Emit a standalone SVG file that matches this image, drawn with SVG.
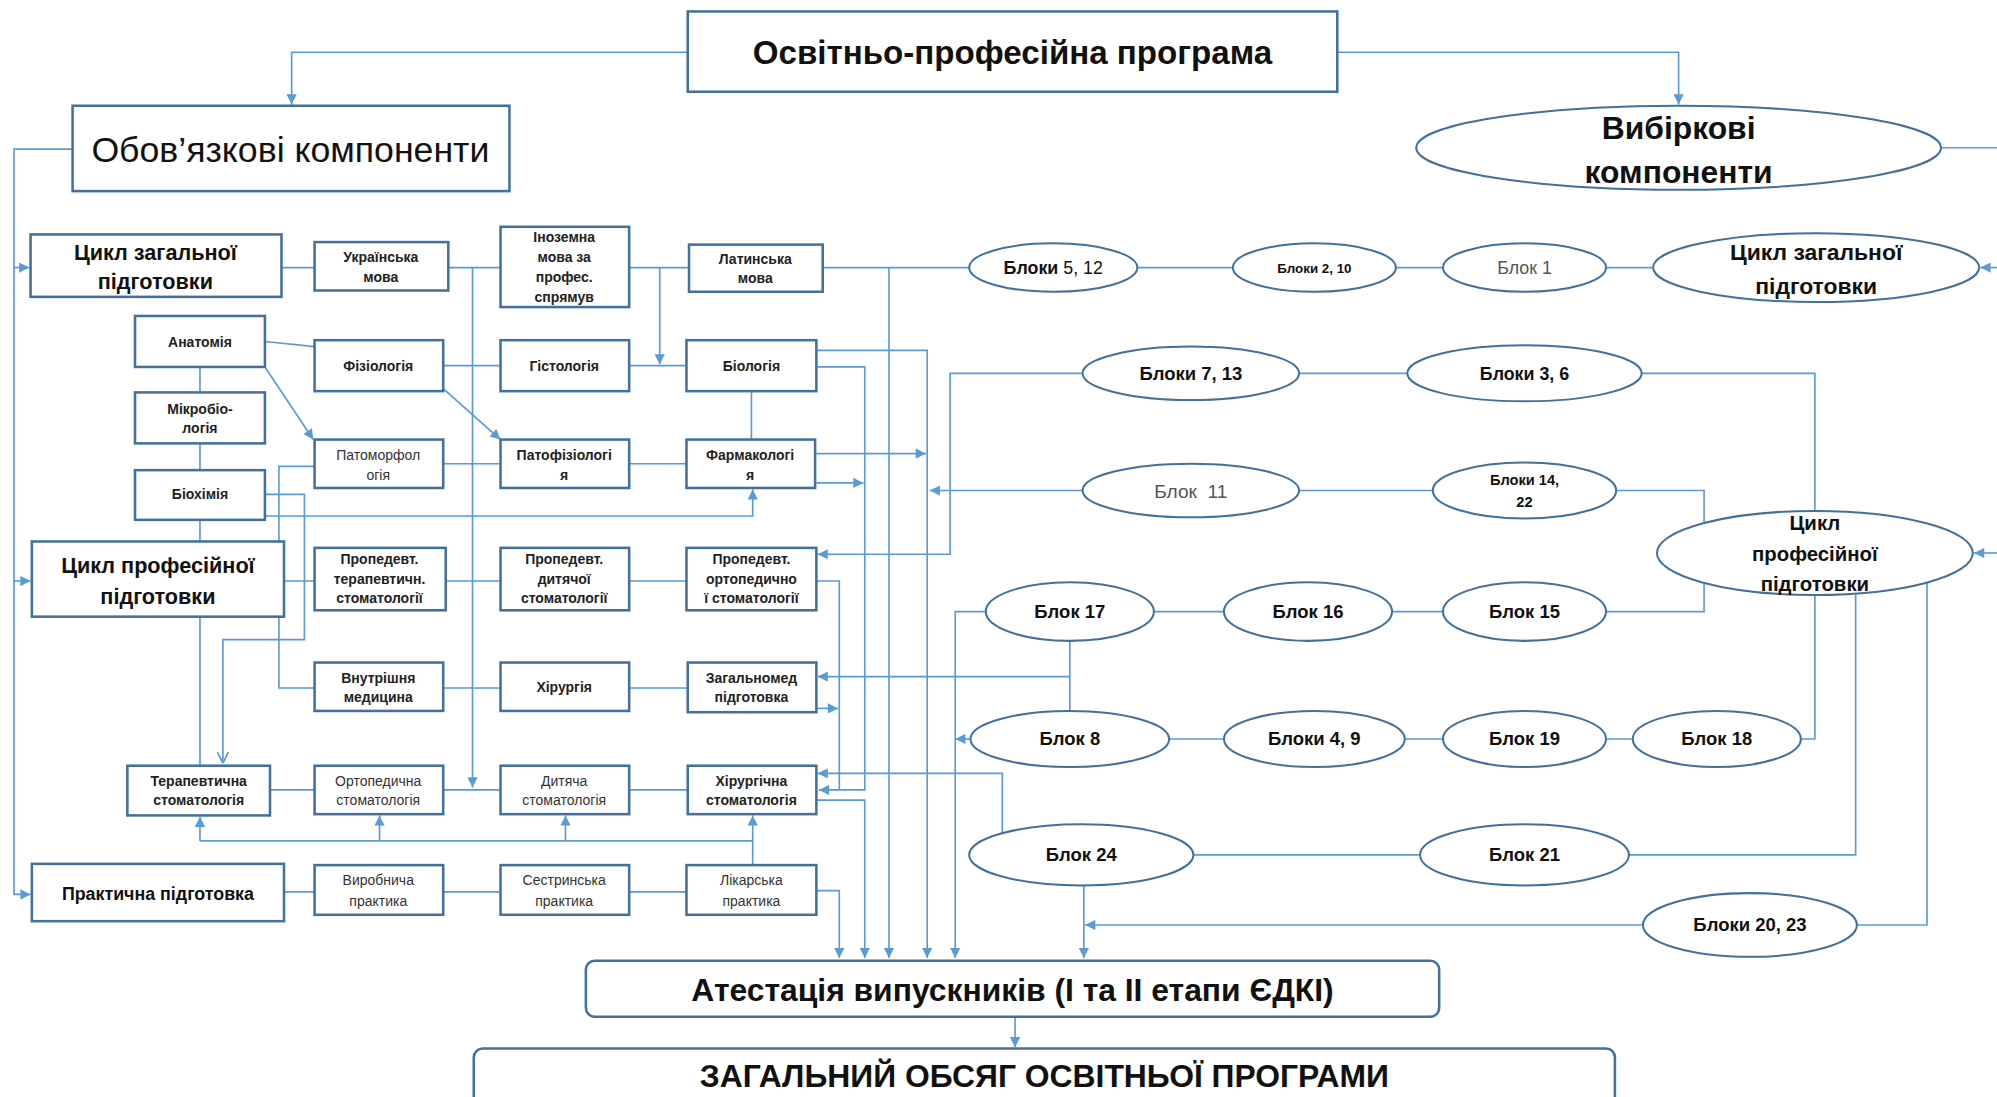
<svg xmlns="http://www.w3.org/2000/svg" width="1997" height="1097" viewBox="0 0 1997 1097">
<defs>
<style>
.bx{fill:#fff;stroke:#41719C;stroke-width:2}
.el{fill:#fff;stroke:#41719C;stroke-width:1.6}
.c{fill:none;stroke:#5B9BD5;stroke-width:1.3}
.ca{fill:none;stroke:#5B9BD5;stroke-width:1.3;marker-end:url(#ah)}
.t{font-family:"Liberation Sans",Arial,sans-serif;fill:#111;text-anchor:middle}
.b{font-weight:bold}
.s{font-size:11px;font-weight:bold;fill:#222}
.sr{font-size:11px;fill:#333}
.g{fill:#555}
</style>
<marker id="ah" viewBox="0 0 10 10" refX="10" refY="5" markerWidth="9" markerHeight="8" markerUnits="userSpaceOnUse" orient="auto"><path d="M0,0 L10,5 L0,10 z" fill="#5B9BD5"/></marker>
<marker id="av" viewBox="0 0 10 10" refX="10" refY="5" markerWidth="9" markerHeight="10" markerUnits="userSpaceOnUse" orient="auto"><path d="M0,0 L10,5 L0,10" fill="none" stroke="#5B9BD5" stroke-width="1.5"/></marker>
</defs>
<rect width="1997" height="1097" fill="#fff"/>
<g transform="scale(1.2736 1.2741)">
<g id="connectors">
<path class="ca" d="M540,41 H229 V82"/>
<path class="ca" d="M1050,41 H1318 V82"/>
<path class="ca" d="M57,117 H11 V702 H24"/>
<path class="ca" d="M11,210 H23"/>
<path class="ca" d="M11,456 H24"/>
<path class="c" d="M221,210 H247"/>
<path class="c" d="M352,210 H393"/>
<path class="ca" d="M371,210 V618"/>
<path class="c" d="M494,210 H541"/>
<path class="ca" d="M518,210 V286"/>
<path class="c" d="M646,210 H761"/>
<path class="ca" d="M698,210 V752"/>
<path class="c" d="M208,268 L247,272"/>
<path class="ca" d="M208,288 L246,345"/>
<path class="c" d="M348,287 H393"/>
<path class="ca" d="M348,305 L393,345"/>
<path class="c" d="M494,287 H539"/>
<path class="ca" d="M641,275 H728 V752"/>
<path class="ca" d="M641,288 H679 V620 H643"/>
<path class="c" d="M590,307 V345"/>
<path class="c" d="M157,288 V308 M157,348 V369 M157,408 V425 M157,484 V601"/>
<path class="c" d="M348,364 H393 M494,364 H539"/>
<path class="c" d="M247,366 H219 V540 H247"/>
<path class="c" d="M208,388 H239 V502 H175 V599" style="marker-end:url(#av)"/>
<path class="ca" d="M208,405 H591 V384"/>
<path class="ca" d="M641,356 H727"/>
<path class="ca" d="M641,379 H678"/>
<path class="ca" d="M850,385 H730"/>
<path class="c" d="M223,456 H247 M350,456 H393 M494,456 H539"/>
<path class="c" d="M641,456 H659 V620"/>
<path class="ca" d="M850,293 H746 V435 H642"/>
<path class="c" d="M348,540 H393 M494,540 H540"/>
<path class="c" d="M840,503 V558"/>
<path class="ca" d="M840,531 H642"/>
<path class="ca" d="M641,556 H658"/>
<path class="ca" d="M774,480 H750 V752"/>
<path class="ca" d="M762,580 H750"/>
<path class="c" d="M212,620 H247 M348,620 H393 M494,620 H540"/>
<path class="ca" d="M787,654 V607 H642"/>
<path class="ca" d="M641,628 H679 V752"/>
<path class="ca" d="M591,679 V640"/>
<path class="c" d="M157,660 H591"/>
<path class="ca" d="M157,660 V641"/>
<path class="ca" d="M298,660 V640"/>
<path class="ca" d="M444,660 V640"/>
<path class="c" d="M223,700 H247 M348,700 H393 M494,700 H539"/>
<path class="ca" d="M641,699 H659 V752"/>
<path class="ca" d="M797,798 V822"/>
<path class="ca" d="M851,695 V752"/>
<path class="ca" d="M1290,726 H852"/>
<path class="c" d="M893,210 H968 M1096,210 H1133 M1261,210 H1298"/>
<path class="c" d="M1020,293 H1106 M1289,293 H1425 V401"/>
<path class="c" d="M1020,385 H1125 M1269,385 H1338 V410"/>
<path class="c" d="M906,480 H961 M1093,480 H1133 M1261,480 H1338 V458"/>
<path class="c" d="M918,580 H961 M1103,580 H1133 M1261,580 H1282 M1414,580 H1425 V467"/>
<path class="c" d="M937,671 H1115 M1279,671 H1457 V466"/>
<path class="c" d="M1458,726 H1513 V457"/>
<path class="c" d="M1524,116 H1570"/>
<path class="ca" d="M1570,210 H1555"/>
<path class="ca" d="M1570,434 H1550"/>
</g>

<g id="n-opp"><rect class="bx" x="540" y="9" width="510" height="63"/><text class="t b" x="795" y="50" font-size="26">Освітньо-професійна програма</text></g>
<g id="n-oblig"><rect class="bx" x="57" y="83" width="343" height="67"/><text class="t" x="228" y="127" font-size="28">Обов’язкові компоненти</text></g>
<g id="n-vib"><ellipse class="el" cx="1318" cy="116" rx="206" ry="33"/><text class="t b" x="1318" y="109" font-size="25">Вибіркові</text><text class="t b" x="1318" y="144" font-size="25">компоненти</text></g>

<g id="n-czp"><rect class="bx" x="24" y="184" width="197" height="49"/><text class="t b" x="122" y="204" font-size="17">Цикл загальної</text><text class="t b" x="122" y="227" font-size="17">підготовки</text></g>
<g id="n-cpp"><rect class="bx" x="25" y="425" width="198" height="59"/><text class="t b" x="124" y="450" font-size="17">Цикл професійної</text><text class="t b" x="124" y="474" font-size="17">підготовки</text></g>
<g id="n-prakt"><rect class="bx" x="25" y="678" width="198" height="45"/><text class="t b" x="124" y="706" font-size="14">Практична підготовка</text></g>

<g id="n-ukr"><rect class="bx" x="247" y="190" width="105" height="38"/><text class="t s" x="299" y="206">Українська</text><text class="t s" x="299" y="221">мова</text></g>
<g id="n-inoz"><rect class="bx" x="393" y="178" width="101" height="63"/><text class="t s" x="443" y="190">Іноземна</text><text class="t s" x="443" y="206">мова за</text><text class="t s" x="443" y="221">профес.</text><text class="t s" x="443" y="237">спрямув</text></g>
<g id="n-lat"><rect class="bx" x="541" y="192" width="105" height="37"/><text class="t s" x="593" y="207">Латинська</text><text class="t s" x="593" y="222">мова</text></g>

<g id="n-anat"><rect class="bx" x="106" y="248" width="102" height="40"/><text class="t s" x="157" y="272">Анатомія</text></g>
<g id="n-fiz"><rect class="bx" x="247" y="267" width="101" height="40"/><text class="t s" x="297" y="291">Фізіологія</text></g>
<g id="n-hist"><rect class="bx" x="393" y="267" width="101" height="40"/><text class="t s" x="443" y="291">Гістологія</text></g>
<g id="n-biol"><rect class="bx" x="539" y="267" width="102" height="40"/><text class="t s" x="590" y="291">Біологія</text></g>

<g id="n-mikro"><rect class="bx" x="106" y="308" width="102" height="40"/><text class="t s" x="157" y="325">Мікробіо-</text><text class="t s" x="157" y="340">логія</text></g>
<g id="n-patmorf"><rect class="bx" x="247" y="345" width="101" height="38"/><text class="t sr" x="297" y="361">Патоморфол</text><text class="t sr" x="297" y="377">огія</text></g>
<g id="n-patfiz"><rect class="bx" x="393" y="345" width="101" height="38"/><text class="t s" x="443" y="361">Патофізіологі</text><text class="t s" x="443" y="377">я</text></g>
<g id="n-farm"><rect class="bx" x="539" y="345" width="101" height="38"/><text class="t s" x="589" y="361">Фармакологі</text><text class="t s" x="589" y="377">я</text></g>
<g id="n-biohim"><rect class="bx" x="106" y="369" width="102" height="39"/><text class="t s" x="157" y="392">Біохімія</text></g>

<g id="n-pr-ter"><rect class="bx" x="247" y="430" width="103" height="49"/><text class="t s" x="298" y="443">Пропедевт.</text><text class="t s" x="298" y="458">терапевтичн.</text><text class="t s" x="298" y="473">стоматології</text></g>
<g id="n-pr-dyt"><rect class="bx" x="393" y="430" width="101" height="49"/><text class="t s" x="443" y="443">Пропедевт.</text><text class="t s" x="443" y="458">дитячої</text><text class="t s" x="443" y="473">стоматології</text></g>
<g id="n-pr-ort"><rect class="bx" x="539" y="430" width="102" height="49"/><text class="t s" x="590" y="443">Пропедевт.</text><text class="t s" x="590" y="458">ортопедично</text><text class="t s" x="590" y="473">ї стоматології</text></g>

<g id="n-vnutr"><rect class="bx" x="247" y="520" width="101" height="38"/><text class="t s" x="297" y="536">Внутрішня</text><text class="t s" x="297" y="551">медицина</text></g>
<g id="n-hir"><rect class="bx" x="393" y="520" width="101" height="38"/><text class="t s" x="443" y="543">Хірургія</text></g>
<g id="n-zagmed"><rect class="bx" x="540" y="520" width="101" height="39"/><text class="t s" x="590" y="536">Загальномед</text><text class="t s" x="590" y="551">підготовка</text></g>

<g id="n-ter-st"><rect class="bx" x="100" y="601" width="112" height="39"/><text class="t s" x="156" y="617">Терапевтична</text><text class="t s" x="156" y="632">стоматологія</text></g>
<g id="n-ort-st"><rect class="bx" x="247" y="601" width="101" height="38"/><text class="t sr" x="297" y="617">Ортопедична</text><text class="t sr" x="297" y="632">стоматологія</text></g>
<g id="n-dyt-st"><rect class="bx" x="393" y="601" width="101" height="38"/><text class="t sr" x="443" y="617">Дитяча</text><text class="t sr" x="443" y="632">стоматологія</text></g>
<g id="n-hir-st"><rect class="bx" x="540" y="601" width="101" height="38"/><text class="t s" x="590" y="617">Хірургічна</text><text class="t s" x="590" y="632">стоматологія</text></g>

<g id="n-vyrob"><rect class="bx" x="247" y="679" width="101" height="39"/><text class="t sr" x="297" y="695">Виробнича</text><text class="t sr" x="297" y="711">практика</text></g>
<g id="n-sestr"><rect class="bx" x="393" y="679" width="101" height="39"/><text class="t sr" x="443" y="695">Сестринська</text><text class="t sr" x="443" y="711">практика</text></g>
<g id="n-likar"><rect class="bx" x="539" y="679" width="102" height="39"/><text class="t sr" x="590" y="695">Лікарська</text><text class="t sr" x="590" y="711">практика</text></g>

<g id="n-atest"><rect class="bx" x="460" y="754" width="670" height="44" rx="7"/><text class="t b" x="795" y="786" font-size="25">Атестація випускників (І та ІІ етапи ЄДКІ)</text></g>
<g id="n-zag"><rect class="bx" x="372" y="823" width="896" height="50" rx="7"/><text class="t b" x="820" y="853" font-size="25">ЗАГАЛЬНИЙ ОБСЯГ ОСВІТНЬОЇ ПРОГРАМИ</text></g>

<g id="e-b512"><ellipse class="el" cx="827" cy="210" rx="66" ry="19"/><text class="t" x="827" y="215" font-size="14"><tspan font-weight="bold">Блоки</tspan> 5, 12</text></g>
<g id="e-b210"><ellipse class="el" cx="1032" cy="210" rx="64" ry="19"/><text class="t" x="1032" y="214" font-size="10.5" font-weight="bold" fill="#333">Блоки 2, 10</text></g>
<g id="e-b1"><ellipse class="el" cx="1197" cy="210" rx="64" ry="19"/><text class="t g" x="1197" y="215" font-size="14">Блок 1</text></g>
<g id="e-czp"><ellipse class="el" cx="1426" cy="210" rx="128" ry="27"/><text class="t b" x="1426" y="204" font-size="18">Цикл загальної</text><text class="t b" x="1426" y="231" font-size="18">підготовки</text></g>
<g id="e-b713"><ellipse class="el" cx="935" cy="293" rx="85" ry="21"/><text class="t b" x="935" y="298" font-size="14.5">Блоки 7, 13</text></g>
<g id="e-b36"><ellipse class="el" cx="1197" cy="293" rx="92" ry="22"/><text class="t b" x="1197" y="298" font-size="14">Блоки 3, 6</text></g>
<g id="e-b11"><ellipse class="el" cx="935" cy="385" rx="85" ry="21"/><text class="t g" x="935" y="391" font-size="15" xml:space="preserve">Блок  11</text></g>
<g id="e-b1422"><ellipse class="el" cx="1197" cy="385" rx="72" ry="22"/><text class="t b" x="1197" y="381" font-size="11.5">Блоки 14,</text><text class="t b" x="1197" y="398" font-size="11.5">22</text></g>
<g id="e-cpp"><ellipse class="el" cx="1425" cy="434" rx="124" ry="33"/><text class="t b" x="1425" y="416" font-size="16">Цикл</text><text class="t b" x="1425" y="440" font-size="16">професійної</text><text class="t b" x="1425" y="464" font-size="16">підготовки</text></g>
<g id="e-b17"><ellipse class="el" cx="840" cy="480" rx="66" ry="23"/><text class="t b" x="840" y="485" font-size="14.5">Блок 17</text></g>
<g id="e-b16"><ellipse class="el" cx="1027" cy="480" rx="66" ry="23"/><text class="t b" x="1027" y="485" font-size="14.5">Блок 16</text></g>
<g id="e-b15"><ellipse class="el" cx="1197" cy="480" rx="64" ry="23"/><text class="t b" x="1197" y="485" font-size="14.5">Блок 15</text></g>
<g id="e-b8"><ellipse class="el" cx="840" cy="580" rx="78" ry="22"/><text class="t b" x="840" y="585" font-size="14.5">Блок 8</text></g>
<g id="e-b49"><ellipse class="el" cx="1032" cy="580" rx="71" ry="22"/><text class="t b" x="1032" y="585" font-size="14.5">Блоки 4, 9</text></g>
<g id="e-b19"><ellipse class="el" cx="1197" cy="580" rx="64" ry="22"/><text class="t b" x="1197" y="585" font-size="14.5">Блок 19</text></g>
<g id="e-b18"><ellipse class="el" cx="1348" cy="580" rx="66" ry="22"/><text class="t b" x="1348" y="585" font-size="14.5">Блок 18</text></g>
<g id="e-b24"><ellipse class="el" cx="849" cy="671" rx="88" ry="24"/><text class="t b" x="849" y="676" font-size="14.5">Блок 24</text></g>
<g id="e-b21"><ellipse class="el" cx="1197" cy="671" rx="82" ry="24"/><text class="t b" x="1197" y="676" font-size="14.5">Блок 21</text></g>
<g id="e-b2023"><ellipse class="el" cx="1374" cy="726" rx="84" ry="25"/><text class="t b" x="1374" y="731" font-size="14.5">Блоки 20, 23</text></g>
</g>
</svg>
